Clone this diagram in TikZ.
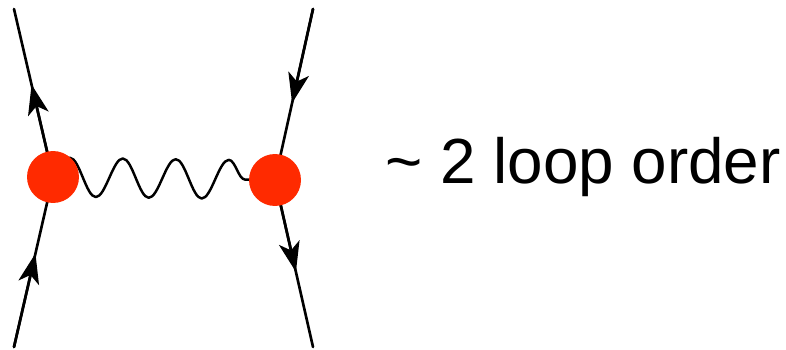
\documentclass[tikz,border=0pt]{standalone}
\usepackage{fontspec}
\setmainfont{Liberation Sans}
\usetikzlibrary{arrows.meta,decorations.pathmorphing}
\definecolor{blobred}{RGB}{255,42,0}
\tikzset{
  vertexnode/.style={circle,fill=blobred,minimum size=1.04cm,inner sep=0pt},
  fermion/.style={line width=1.5pt},
  fermionhead/.style={line width=1.5pt,-{Stealth[length=0.6cm,width=0.42cm,inset=0.16cm]}},
  photon/.style={line width=1.4pt,decorate,
    decoration={snake,segment length=1.06cm,amplitude=0.39cm,post length=0.1cm}},
  every picture/.style={line cap=round,line join=round}
}

\begin{document}
\begin{tikzpicture}[x=0.02cm,y=0.02cm]
  \useasboundingbox (0,0) rectangle (786,349);
  \coordinate (inl) at (14,2);
  \coordinate (outl) at (14,340);
  \coordinate (inr) at (313,340);
  \coordinate (outr) at (313,2);
  \coordinate (vlc) at (53,172);
  \coordinate (vrc) at (275,169);
  % arrow tips a bit past the middle of each line
  \path (inl) -- (vlc) coordinate[pos=0.55] (al1);
  \path (vlc) -- (outl) coordinate[pos=0.55] (al2);
  \path (inr) -- (vrc) coordinate[pos=0.55] (ar1);
  \path (vrc) -- (outr) coordinate[pos=0.55] (ar2);
  \draw[fermion] (inl) -- (vlc) -- (outl);
  \draw[fermion] (inr) -- (vrc) -- (outr);
  \draw[fermionhead] (inl) -- (al1);
  \draw[fermionhead] (vlc) -- (al2);
  \draw[fermionhead] (inr) -- (ar1);
  \draw[fermionhead] (vrc) -- (ar2);
  \draw[photon] (vlc) -- (vrc);
  \node[vertexnode] (vl) at (vlc) {};
  \node[vertexnode] (vr) at (vrc) {};
  \node[anchor=base west,inner sep=0pt] (order) at (385,166)
    {\fontsize{36.3}{40}\selectfont \char`~\ 2 loop order};
\end{tikzpicture}
\end{document}
